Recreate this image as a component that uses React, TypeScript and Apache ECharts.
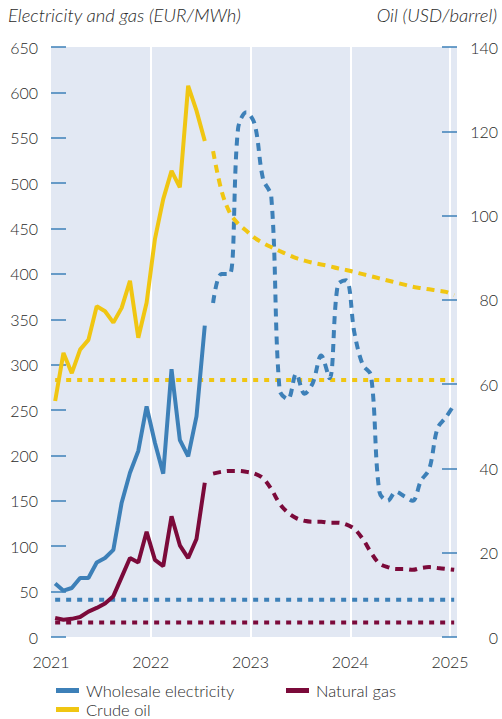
import React, { useEffect, useRef } from "react";
import * as echarts from "echarts";

// Monthly values, first month = January 2021 (mid-month points)
const startYear = 2021;
const yearTicks = [2021, 2022, 2023, 2024, 2025];
const leftTicks = { min: 0, max: 650, interval: 50 };
const rightTicks = { min: 0, max: 140, interval: 20 };

// Outturns Jan 2021 - Jul 2022
const electricityActual = [59, 51, 54, 65, 65, 82, 87, 96, 148, 181, 205, 254, 214, 180, 295, 217, 199, 243, 343];
const gasActual = [21, 19, 20, 22, 28, 32, 37, 45, 66, 87, 82, 116, 85, 78, 133, 101, 87, 108, 170];
const oilActual = [56, 67.4, 62.6, 68.2, 70.5, 78.5, 77.3, 74.6, 78.1, 84.5, 71, 79.3, 94.4, 103.9, 110.6, 106.7, 130.8, 124.9, 117.7];

// Futures Aug 2022 - Jan 2025
const electricityFutures = [368, 400, 400, 560, 578, 565, 505, 485, 272, 262, 290, 268, 280, 310, 285, 388, 393, 335, 300, 288, 160, 150, 160, 155, 150, 172, 185, 230, 242, 256];
const gasFutures = [180, 182, 183, 183, 182, 180, 175, 163, 147, 137, 131, 128, 127, 127, 126, 126, 124, 119, 108, 93, 81, 77, 75, 75, 74, 76, 77, 76, 75, 74];
const oilFutures = [115.3, 106, 100.7, 98.1, 96.4, 94.7, 93.5, 92.5, 91.6, 90.7, 89.9, 89.3, 88.8, 88.4, 88, 87.5, 87.1, 86.6, 86.1, 85.6, 85.1, 84.6, 84.1, 83.6, 83.1, 82.8, 82.5, 82.2, 81.9, 81.1];

// Long-term averages
const electricityAverage = 41;
const gasAverage = 16;
const oilAverage = 61;

const BLUE = "#3d80b8";
const MAROON = "#7b0a3a";
const YELLOW = "#f0c612";
const BG = "#e2e8f3";
const TEXT = "#2a2a2a";
const FONT = "Lato, 'Open Sans', sans-serif";

const monthX = (i: number) => startYear + (i + 0.5) / 12;
const toPairs = (vals: number[], offset: number) => vals.map((v, k) => [monthX(k + offset), v]);
const nActual = electricityActual.length;
const lastIndex = nActual + electricityFutures.length - 1;
const flat = (v: number) => [[monthX(0), v], [monthX(lastIndex), v]];

export default function App() {
  const ref = useRef<HTMLDivElement>(null);
  useEffect(() => {
    if (!ref.current) return;
    const chart = echarts.init(ref.current, undefined, { renderer: "svg" });
    const solid = (color: string) => ({ color, width: 4, type: "solid" as const, cap: "butt" as const });
    const dashed = (color: string) => ({ color, width: 4, type: [8, 6], cap: "butt" as const });
    const dotted = (color: string) => ({ color, width: 4, type: [5, 6], cap: "butt" as const });
    const base = { type: "line", showSymbol: false, symbol: "none", silent: true };
    const legendBase = {
      selectedMode: false,
      icon: "rect",
      itemWidth: 23,
      itemHeight: 5,
      itemGap: 0,
      textStyle: { fontSize: 16.5, color: TEXT, fontFamily: FONT, fontWeight: 300, padding: [0, 0, 0, 2] },
    };
    chart.setOption({
      animation: false,
      grid: { left: 51, right: 45, top: 47, bottom: 82, show: true, backgroundColor: BG, borderWidth: 0 },
      xAxis: {
        type: "value",
        min: 2021,
        max: 2025.07,
        interval: 1,
        axisLine: { show: false },
        axisTick: { show: false },
        splitLine: { show: true, showMinLine: false, showMaxLine: false, lineStyle: { color: "#ffffff", width: 2 } },
        axisLabel: {
          margin: 16,
          fontSize: 16,
          color: TEXT,
          fontFamily: FONT,
          fontWeight: 300,
          formatter: (v: number) => (yearTicks.includes(v) ? String(v) : ""),
        },
      },
      yAxis: [
        {
          type: "value",
          ...leftTicks,
          position: "left",
          axisLine: { show: false },
          axisTick: { show: true, inside: true, length: 15, lineStyle: { color: BLUE, width: 1.5 } },
          splitLine: { show: false },
          axisLabel: { margin: 13, fontSize: 16, color: TEXT, fontFamily: FONT, fontWeight: 300 },
        },
        {
          type: "value",
          ...rightTicks,
          position: "right",
          axisLine: { show: false },
          axisTick: { show: true, inside: true, length: 15, lineStyle: { color: BLUE, width: 1.5 } },
          splitLine: { show: false },
          axisLabel: { margin: 41, align: "right", fontSize: 16, color: TEXT, fontFamily: FONT, fontWeight: 300 },
        },
      ],
      legend: [
        { ...legendBase, left: 51, top: 677, data: ["Wholesale electricity"] },
        { ...legendBase, left: 281, top: 677, data: ["Natural gas"] },
        { ...legendBase, left: 51, top: 696, data: ["Crude oil"] },
      ],
      graphic: [
        {
          type: "text",
          left: 8,
          top: 5,
          style: { text: "Electricity and gas (EUR/MWh)", font: `italic 300 18.5px ${FONT}`, fill: TEXT },
        },
        {
          type: "text",
          right: 5,
          top: 5,
          style: { text: "Oil (USD/barrel)", font: `italic 300 18.5px ${FONT}`, fill: TEXT },
        },
      ],
      series: [
        { ...base, name: "elec-avg", yAxisIndex: 0, data: flat(electricityAverage), lineStyle: dotted(BLUE), color: BLUE },
        { ...base, name: "gas-avg", yAxisIndex: 0, data: flat(gasAverage), lineStyle: dotted(MAROON), color: MAROON },
        { ...base, name: "oil-avg", yAxisIndex: 1, data: flat(oilAverage), lineStyle: dotted(YELLOW), color: YELLOW },
        { ...base, name: "elec-fut", yAxisIndex: 0, smooth: 0.35, data: toPairs(electricityFutures, nActual), lineStyle: dashed(BLUE), color: BLUE },
        { ...base, name: "gas-fut", yAxisIndex: 0, smooth: 0.35, data: toPairs(gasFutures, nActual), lineStyle: dashed(MAROON), color: MAROON },
        { ...base, name: "oil-fut", yAxisIndex: 1, smooth: 0.35, data: toPairs(oilFutures, nActual), lineStyle: dashed(YELLOW), color: YELLOW },
        { ...base, name: "Wholesale electricity", yAxisIndex: 0, data: toPairs(electricityActual, 0), lineStyle: solid(BLUE), color: BLUE },
        { ...base, name: "Natural gas", yAxisIndex: 0, data: toPairs(gasActual, 0), lineStyle: solid(MAROON), color: MAROON },
        { ...base, name: "Crude oil", yAxisIndex: 1, data: toPairs(oilActual, 0), lineStyle: solid(YELLOW), color: YELLOW },
      ],
    });
    return () => chart.dispose();
  }, []);
  return <div ref={ref} style={{ width: 502, height: 719, position: "absolute", left: 0, top: 0 }} />;
}
